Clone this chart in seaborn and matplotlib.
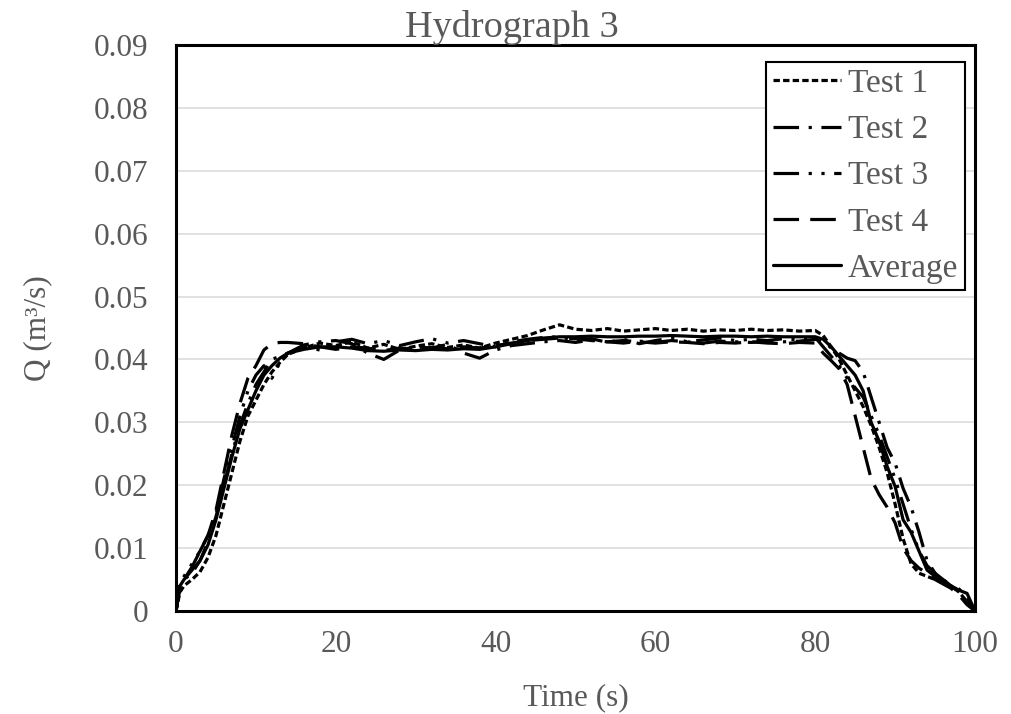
import pandas as pd
import seaborn as sns
import matplotlib.pyplot as plt

# time stamps (s) shared by all tests
time_s = [0, 0.5, 1, 2, 3, 4, 5, 6, 7, 8, 9, 10, 11, 12, 13, 14,
          16, 18, 20, 22, 24, 26, 28, 30, 32, 34, 36, 38, 40, 42, 44, 46, 48,
          50, 52, 54, 56, 58, 60, 62, 64, 66, 68, 70, 72, 74, 76, 78, 80,
          81, 82, 83, 84, 85, 86, 87, 88, 89, 90, 91, 92, 93, 94, 95, 96, 97, 98, 99, 100]

# discharge Q (m3/s)
test1 = [0, 0.003, 0.004, 0.005, 0.0062, 0.0085, 0.012, 0.017, 0.022, 0.027, 0.031, 0.0335, 0.036, 0.038, 0.0395, 0.0408,
         0.0418, 0.0426, 0.0422, 0.0428, 0.0418, 0.0424, 0.0416, 0.0421, 0.0425, 0.0419, 0.0423, 0.0418, 0.0426, 0.0432, 0.0438, 0.0447, 0.0455,
         0.0448, 0.0446, 0.0449, 0.0445, 0.0447, 0.0449, 0.0446, 0.0448, 0.0445, 0.0447, 0.0446, 0.0448, 0.0446, 0.0447, 0.0445, 0.0446,
         0.0438, 0.042, 0.040, 0.0375, 0.035, 0.0325, 0.0295, 0.026, 0.022, 0.017, 0.0115, 0.0075, 0.006, 0.0055, 0.005, 0.0045, 0.004, 0.003, 0.0015, 0]

test2 = [0, 0.004, 0.005, 0.006, 0.008, 0.011, 0.015, 0.020, 0.025, 0.0295, 0.033, 0.036, 0.038, 0.040, 0.0405, 0.041,
         0.0423, 0.0428, 0.0430, 0.0425, 0.0410, 0.0400, 0.0415, 0.0420, 0.0418, 0.0424, 0.0410, 0.0402, 0.0415, 0.0422, 0.0425, 0.0428, 0.0430,
         0.0427, 0.0431, 0.0428, 0.0426, 0.0429, 0.0427, 0.0430, 0.0428, 0.0426, 0.0429, 0.0428, 0.0427, 0.0429, 0.0428, 0.0429, 0.0432,
         0.043, 0.0418, 0.041, 0.0402, 0.0398, 0.038, 0.034, 0.030, 0.026, 0.0235, 0.0195, 0.0165, 0.0125, 0.008, 0.006, 0.005, 0.004, 0.0035, 0.002, 0]

test3 = [0, 0.0045, 0.0055, 0.0075, 0.0095, 0.012, 0.0155, 0.021, 0.026, 0.031, 0.035, 0.0375, 0.039, 0.037, 0.0395, 0.041,
         0.042, 0.0415, 0.0428, 0.0432, 0.0425, 0.0430, 0.0422, 0.0428, 0.0433, 0.0426, 0.0430, 0.0425, 0.0420, 0.0428, 0.0432, 0.0435, 0.0436,
         0.0430, 0.0433, 0.0427, 0.0432, 0.0425, 0.0430, 0.0434, 0.0428, 0.0431, 0.0434, 0.0430, 0.0432, 0.0430, 0.0433, 0.0431, 0.0435,
         0.042, 0.0405, 0.039, 0.037, 0.0355, 0.034, 0.031, 0.028, 0.0245, 0.021, 0.017, 0.013, 0.0095, 0.0072, 0.006, 0.005, 0.004, 0.003, 0.0012, 0]

test4 = [0, 0.004, 0.005, 0.007, 0.0095, 0.012, 0.016, 0.022, 0.028, 0.033, 0.037, 0.039, 0.0415, 0.0425, 0.0427, 0.0427,
         0.0425, 0.0420, 0.0416, 0.0420, 0.0418, 0.0414, 0.0418, 0.0416, 0.0419, 0.0417, 0.0420, 0.0418, 0.0422, 0.0426, 0.0430, 0.0432, 0.0434,
         0.0433, 0.0430, 0.0428, 0.0430, 0.0428, 0.0426, 0.0428, 0.0427, 0.0425, 0.0427, 0.0426, 0.0428, 0.0426, 0.0425, 0.0427, 0.0426,
         0.041, 0.0398, 0.0385, 0.036, 0.031, 0.026, 0.021, 0.0185, 0.0165, 0.014, 0.010, 0.008, 0.0068, 0.006, 0.005, 0.0043, 0.0036, 0.0025, 0.001, 0]

average = [0, 0.004, 0.005, 0.0065, 0.008, 0.0105, 0.0145, 0.0195, 0.0245, 0.029, 0.032, 0.035, 0.0375, 0.039, 0.0402, 0.041,
           0.0416, 0.0420, 0.0420, 0.0418, 0.0414, 0.0413, 0.0415, 0.0414, 0.0416, 0.0415, 0.0417, 0.0416, 0.0420, 0.0425, 0.0430, 0.0434, 0.0436,
           0.0436, 0.0437, 0.0436, 0.0436, 0.0437, 0.0437, 0.0438, 0.0437, 0.0436, 0.0437, 0.0437, 0.0436, 0.0437, 0.0436, 0.0436, 0.0436,
           0.0432, 0.042, 0.0405, 0.039, 0.0375, 0.035, 0.030, 0.027, 0.023, 0.0198, 0.0145, 0.0125, 0.0095, 0.0065, 0.0055, 0.0045, 0.004, 0.0033, 0.0028, 0]

series_names = ['Test 1', 'Test 2', 'Test 3', 'Test 4', 'Average']
series_values = [test1, test2, test3, test4, average]

# Excel-like dash patterns (in linewidth units)
line_styles = {
    'Test 1': (0, (2, 1)),
    'Test 2': (0, (8, 3, 1, 3)),
    'Test 3': (0, (8, 3, 1, 3, 1, 3)),
    'Test 4': (0, (8, 3.5)),
    'Average': '-',
}

sns.set_style('white')
plt.rcParams['font.family'] = ['Liberation Serif', 'DejaVu Serif']
text_color = '#595959'

fig = plt.figure(figsize=(10.11, 7.14), dpi=100)
ax = fig.add_axes([0.1741, 0.1443, 0.7903, 0.7927])

for name, vals in zip(series_names, series_values):
    df = pd.DataFrame({'Time (s)': time_s, 'Q': vals})
    sns.lineplot(data=df, x='Time (s)', y='Q', ax=ax, color='black', lw=2.3,
                 linestyle=line_styles[name], label=name)

ax.set_xlim(0, 100)
ax.set_ylim(0, 0.09)
ax.set_xticks([0, 20, 40, 60, 80, 100])
ax.set_yticks([i / 100 for i in range(10)])
ax.set_yticklabels(['0'] + ['%.2f' % (i / 100) for i in range(1, 10)])
ax.grid(axis='y', color='#d9d9d9', lw=1.1)
ax.set_axisbelow(True)
for sp in ax.spines.values():
    sp.set_color('black')
    sp.set_linewidth(2.2)
ax.tick_params(axis='both', length=0, labelsize=22.5, labelcolor=text_color)
ax.tick_params(axis='x', pad=14)
ax.tick_params(axis='y', pad=20)

# chart title is centred over the whole figure, not the plot area
ax.set_title('Hydrograph 3', fontsize=27.5, color=text_color, pad=6, x=0.42)
ax.set_xlabel('Time (s)', fontsize=22.5, color=text_color, labelpad=17)
ax.set_ylabel('Q (m³/s)', fontsize=22.5, color=text_color, labelpad=30)

leg = ax.legend(loc='upper right', bbox_to_anchor=(0.9875, 0.970), fontsize=24,
                frameon=True, fancybox=False, framealpha=1, edgecolor='black',
                handlelength=2.05, handletextpad=0.2, labelspacing=0.47,
                borderpad=0.2, borderaxespad=0)
leg.get_frame().set_linewidth(1.5)
for txt in leg.get_texts():
    txt.set_color(text_color)

fig.savefig('out.png', dpi=100)
